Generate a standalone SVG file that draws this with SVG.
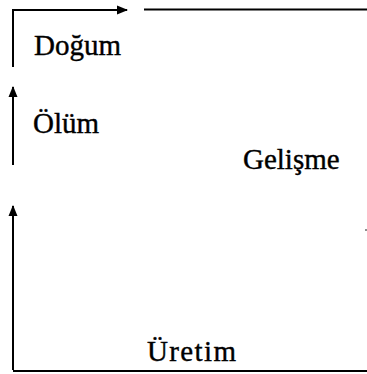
<svg xmlns="http://www.w3.org/2000/svg" width="367" height="374" viewBox="0 0 367 374">
<style>
.l{stroke:#000;stroke-width:2;fill:none}
.t{font-family:"Liberation Serif","Times New Roman",serif;font-size:29px;fill:#000;stroke:#000;stroke-width:0.4}
</style>
<defs>
<marker id="ah" markerWidth="11" markerHeight="10" refX="10" refY="5" orient="auto" markerUnits="userSpaceOnUse">
<path d="M0,0.5 L11,5 L0,9.5 Z" fill="#000"/>
</marker>
</defs>
<rect width="367" height="374" fill="#fff"/>
<g id="connectors">
<path class="l" d="M13,67 V10 H127" marker-end="url(#ah)"/>
<path class="l" d="M144,9.5 H367"/>
<path class="l" d="M13,165 V87" marker-end="url(#ah)"/>
<path class="l" d="M13,370 V206" marker-end="url(#ah)"/>
<path class="l" d="M13,371 H367"/>
<circle cx="366" cy="230" r="0.8" fill="#000"/>
</g>
<g id="dogum"><text class="t" x="34" y="55">Doğum</text></g>
<g id="olum"><text class="t" x="33" y="133">Ölüm</text></g>
<g id="gelisme"><text class="t" x="243" y="169">Gelişme</text></g>
<g id="uretim"><text class="t" x="147" y="361" textLength="89" lengthAdjust="spacing">Üretim</text></g>
</svg>
